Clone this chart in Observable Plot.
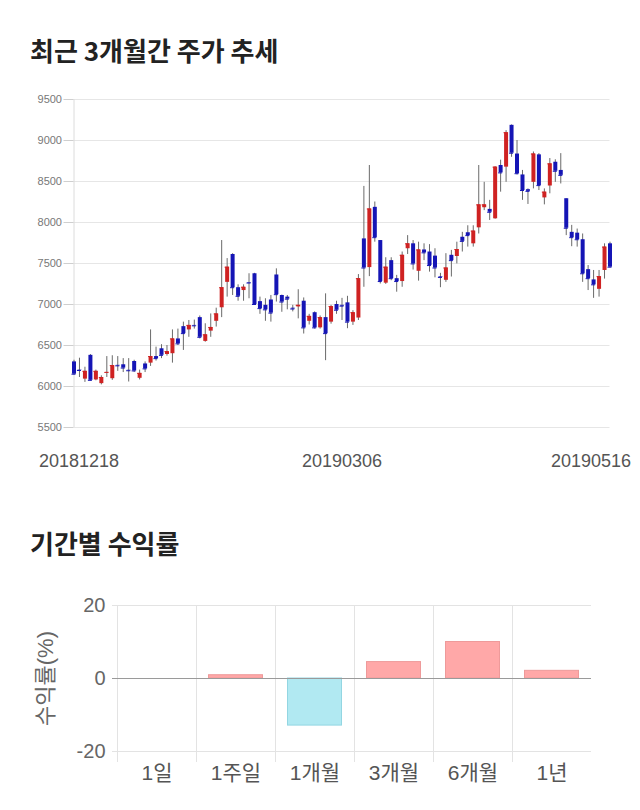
<!DOCTYPE html>
<html><head><meta charset="utf-8">
<script src="https://cdn.jsdelivr.net/npm/d3@7"></script>
<script src="https://cdn.jsdelivr.net/npm/@observablehq/plot@0.6"></script>
<style>
html,body{margin:0;padding:0;background:#fff;}
body{width:640px;height:810px;position:relative;overflow:hidden;font-family:"Liberation Sans","Noto Sans CJK KR",sans-serif;}
.title{position:absolute;left:30px;font-family:"Noto Sans CJK KR",sans-serif;font-size:26px;font-weight:bold;color:#222;line-height:26px;white-space:nowrap;}
#t1{top:37px;}
#t2{top:530px;}
#c1{position:absolute;left:0;top:85px;}
#c2{position:absolute;left:0;top:590px;}
svg{font-family:"Liberation Sans","Noto Sans CJK KR",sans-serif;}
</style></head><body>
<div class="title" id="t1">최근 3개월간 주가 추세</div>
<div id="c1"></div>
<div class="title" id="t2">기간별 수익률</div>
<div id="c2"></div>
<script>
// ---- candlestick data ----
const dates = [
"20181218","20181219","20181220","20181221","20181224","20181226","20181227","20181228",
"20190102","20190103","20190104","20190107","20190108","20190109","20190110","20190111","20190114","20190115","20190116","20190117","20190118","20190121","20190122","20190123","20190124","20190125","20190128","20190129","20190130","20190131",
"20190201","20190207","20190208","20190211","20190212","20190213","20190214","20190215","20190218","20190219","20190220","20190221","20190222","20190225","20190226","20190227","20190228",
"20190304","20190305","20190306","20190307","20190308","20190311","20190312","20190313","20190314","20190315","20190318","20190319","20190320","20190321","20190322","20190325","20190326","20190327","20190328","20190329",
"20190401","20190402","20190403","20190404","20190405","20190408","20190409","20190410","20190411","20190412","20190415","20190416","20190417","20190418","20190419","20190422","20190423","20190424","20190425","20190426","20190429","20190430",
"20190502","20190503","20190507","20190508","20190509","20190510","20190513","20190514","20190515","20190516"];
const open = [
6300,6200,6090,6380,6080,6035,6165,6095,6258,6265,
6198,6305,6100,6275,6285,6365,6460,6390,6400,6580,
6730,6690,6745,6840,6550,6675,6795,6960,7270,7610,
7205,7170,7268,7375,7035,6990,7055,7360,7110,7090,
6955,6970,7040,6795,6900,6715,6840,6785,7000,6990,
7020,6785,6835,7800,7450,8185,7780,7260,7535,7315,
7280,7680,7740,7405,7665,7640,7590,7338,7295,7600,
7585,7820,7875,7740,7935,8180,8160,8045,8695,8675,
9185,8835,8580,8400,8490,8825,8300,8445,8735,8635,
8290,7880,7870,7790,7425,7300,7185,7415,7740];
const high = [
6320,6345,6235,6390,6200,6130,6365,6375,6365,6340,
6340,6320,6200,6300,6690,6480,6510,6500,6690,6700,
6785,6805,6810,6860,6765,6885,6955,7780,7560,7620,
7240,7240,7375,7380,7090,7070,7110,7435,7115,7110,
6990,7180,7080,6880,6910,6860,7130,6990,7040,7075,
7100,6925,7365,8440,8695,8250,7780,7570,7570,7355,
7640,7840,7780,7760,7740,7730,7680,7380,7620,7660,
7760,7880,7960,7960,8695,8490,8270,8680,8760,9120,
9190,9000,8635,8410,8860,8840,8410,8780,8765,8840,
8290,7965,7920,7860,7475,7415,7415,7740,7760];
const low = [
6140,6110,6050,6070,6070,6020,6110,6075,6185,6170,
6055,6170,6080,6170,6245,6310,6340,6370,6285,6500,
6440,6600,6700,6580,6540,6600,6725,6840,7090,7110,
7040,7040,7070,6990,6880,6795,6785,7030,6905,6935,
6910,6825,6640,6750,6700,6700,6315,6760,6880,6805,
6705,6745,6805,7210,7340,7760,7250,7245,7290,7150,
7210,7610,7420,7285,7535,7395,7325,7205,7270,7335,
7495,7640,7700,7700,7860,8145,8025,8040,8370,8490,
8795,8580,8270,8220,8410,8390,8215,8350,8490,8470,
7840,7705,7700,7270,7170,7075,7090,7310,7450];
const close = [
6150,6195,6185,6075,6185,6110,6172,6255,6252,6225,
6192,6190,6160,6215,6365,6340,6380,6425,6580,6520,
6645,6745,6740,6600,6630,6720,6885,7205,7455,7205,
7100,7210,7262,7000,6950,6935,6895,7120,7030,7065,
6945,6990,6715,6855,6715,6840,6645,6975,6930,6980,
6785,6900,7315,7445,8165,7815,7280,7455,7315,7280,
7600,7740,7495,7665,7630,7475,7445,7330,7445,7535,
7670,7770,7840,7895,8215,8215,8125,8675,8605,9095,
8845,8595,8390,8380,8835,8450,8370,8715,8625,8575,
7930,7815,7790,7375,7315,7240,7340,7700,7455];
const priceTicks = [5500,6000,6500,7000,7500,8000,8500,9000,9500];
const dateLabels = ["20181218","20190306","20190516"];

// ---- returns data ----
const periods = ["1일","1주일","1개월","3개월","6개월","1년"];
const returns = [0, 0.9, -12.9, 4.5, 10.0, 2.1];
const returnTicks = [20, 0, -20];
const returnLabel = "수익률(%)";

const UP = "#cf2222", DOWN = "#1515b5";
const candles = dates.map((d, i) => ({i, date: d, open: open[i], high: high[i], low: low[i], close: close[i]}));
const col = d => d.close > d.open ? UP : DOWN;
const labelIdx = dateLabels.map(l => dates.indexOf(l));
const xAxisStyle = {tickSize: 0, tickPadding: 27, fontSize: 18, fill: "#555", tickFormat: i => dates[i], label: null};

const chart1 = Plot.plot({
  width: 640, height: 390,
  marginTop: 14, marginBottom: 48, marginLeft: 73.5, marginRight: 30.5,
  x: {type: "linear", domain: [0, dates.length - 1]},
  y: {domain: [5500, 9500]},
  color: {type: "identity"},
  marks: [
    Plot.gridY(priceTicks, {stroke: "#e6e6e6", strokeOpacity: 1}),
    Plot.ruleX([0], {stroke: "#dcdcdc"}),
    Plot.axisY(priceTicks, {tickSize: 10, tickPadding: 2, stroke: "#cfcfcf", fill: "#777", fontSize: 11, tickFormat: d => String(d), label: null}),
    Plot.axisX(labelIdx.slice(0, 1), {...xAxisStyle, dx: 5}),
    Plot.axisX(labelIdx.slice(1, 2), {...xAxisStyle}),
    Plot.axisX(labelIdx.slice(2), {...xAxisStyle, textAnchor: "end", dx: 21}),
    Plot.ruleX(candles, {x: "i", y1: "low", y2: "high", stroke: "#6a6a6a", strokeWidth: 1}),
    Plot.ruleX(candles, {x: "i", y1: "open", y2: "close", stroke: col, strokeWidth: 4}),
    Plot.ruleY(candles, {x1: d => d.i - 0.37, x2: d => d.i + 0.37, y: "close", stroke: col, strokeWidth: 1})
  ]
});
document.getElementById("c1").appendChild(chart1);

const bars = periods.map((p, k) => ({p, v: returns[k]}));
const chart2 = Plot.plot({
  width: 640, height: 200,
  marginTop: 15, marginBottom: 39, marginLeft: 117, marginRight: 49,
  x: {type: "band", domain: periods, padding: 0},
  y: {domain: [-20, 20]},
  color: {type: "identity"},
  marks: [
    Plot.ruleY([20, -20], {stroke: "#e3e3e3", insetLeft: -5}),
    Plot.ruleX(periods, {x: d => d, dx: -39.5, stroke: "#e3e3e3", insetBottom: -11}),
    Plot.barY(bars.filter(d => d.v !== 0), {x: "p", y: "v",
      fill: d => d.v >= 0 ? "#ffa8a8" : "#b1e9f2",
      stroke: d => d.v >= 0 ? "#ee9a9a" : "#93d6e2",
      insetLeft: 12.5, insetRight: 12.5}),
    Plot.ruleY([0], {stroke: "#9a9a9a", insetLeft: -5}),
    Plot.axisY(returnTicks, {tickSize: 0, tickPadding: 12, fontSize: 20, fill: "#666", tickFormat: d => String(d), label: null}),
    Plot.axisX({tickSize: 0, tickPadding: 14, fontSize: 21, fill: "#555", label: null}),
    Plot.text([returnLabel], {frameAnchor: "left", textAnchor: "middle", dx: -72, rotate: -90, fontSize: 22, fill: "#666"})
  ]
});
document.getElementById("c2").appendChild(chart2);
</script>
</body></html>
